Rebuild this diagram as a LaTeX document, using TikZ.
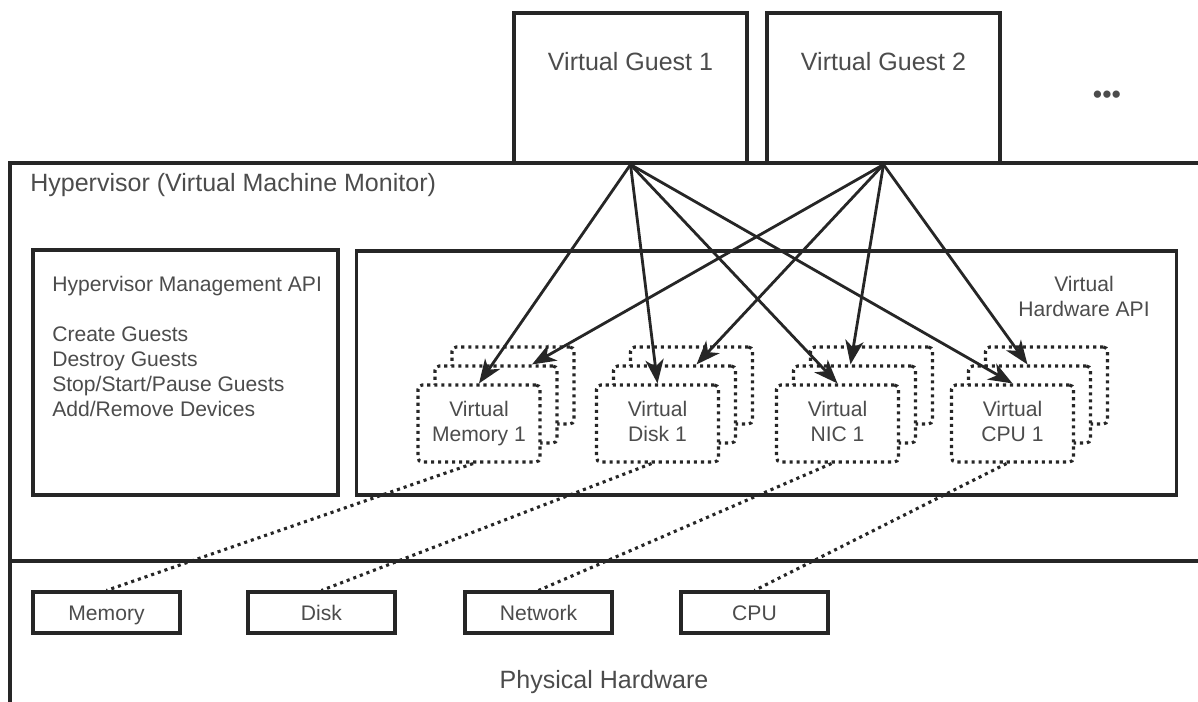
\documentclass[tikz,border=0pt]{standalone}
\usepackage{fontspec}
\setmainfont{Liberation Sans}
\usetikzlibrary{arrows.meta}

\begin{document}
\begin{tikzpicture}[x=0.025cm, y=-0.025cm,
	line/.style={line width=2.2pt, draw=black!85},
	box/.style={rectangle, line width=2.2pt, draw=black!85, fill=white, inner sep=0pt},
	txt/.style={text=black!70, font=\fontsize{15}{17.8}\selectfont, align=center},
	big/.style={text=black!70, font=\fontsize{17.8}{21}\selectfont},
	guest/.style={box, minimum width=5.825cm, minimum height=3.75cm},
	vbox/.style={rectangle, draw=black!85, line width=2.2pt, dash pattern=on 2.2pt off 2.8pt,
		rounded corners=3pt, fill=white, minimum width=3.05cm, minimum height=1.925cm, inner sep=0pt},
	hwbox/.style={box, minimum width=3.675cm, minimum height=1.025cm, text height=12.8pt, text depth=2pt},
	arr/.style={line width=2pt, draw=black!85, -{Stealth[length=17pt, width=13pt, inset=5pt]}},
	dots/.style={line width=2.2pt, draw=black!85, dash pattern=on 2.2pt off 2.8pt}]
	\useasboundingbox (0,0) rectangle (1198,702);
	\draw[line] (1198,163) -- (10,163) -- (10,702);
	\draw[line] (10,561) -- (1198,561);
	\node[guest, label={[big, anchor=center, yshift=-1.25cm]north:Virtual Guest 1}] (g1) at (630.5,88) {};
	\node[guest, label={[big, anchor=center, yshift=-1.25cm]north:Virtual Guest 2}] (g2) at (883.5,88) {};
	\node[big, inner sep=0pt] (more) at (1107,97) {\fontsize{19}{19}\selectfont •••};
	\node[big, anchor=west, inner sep=0pt] (hyp) at (30,185) {Hypervisor (Virtual Machine Monitor)};
	\node[box, minimum width=7.625cm, minimum height=6.125cm] (mgmt) at (185.5,372.5) {};
	\node[txt, align=left, anchor=north west, inner sep=0pt] (mgmttxt) at (52,276)
		{Hypervisor Management API\\[17.8pt]Create Guests\\Destroy Guests\\Stop/Start/Pause Guests\\Add/Remove Devices};
	\node[box, minimum width=20.475cm, minimum height=6.1cm] (vhw) at (766.5,373) {};
	\node[txt] (vhwtxt) at (1084,296) {Virtual\\Hardware API};
	\foreach \n/\x/\t in {mem/479/Memory 1, disk/657.5/Disk 1, nic/837.5/NIC 1, cpu/1012.5/CPU 1} {
		\node[vbox] (\n3) at ({\x+34},385.5) {};
		\node[vbox] (\n2) at ({\x+17},404.5) {};
		\node[vbox, txt] (\n1) at (\x,423.5) {Virtual\\\t\vphantom{y}};
	}
	\node[hwbox, txt] (pmem) at (106.5,612.5) {Memory};
	\node[hwbox, txt] (pdisk) at (321.5,612.5) {Disk};
	\node[hwbox, txt] (pnet) at (538.5,612.5) {Network};
	\node[hwbox, txt] (pcpu) at (754.5,612.5) {CPU};
	\node[big] (phys) at (604,682) {Physical Hardware};
	\foreach \n/\p in {mem/pmem, disk/pdisk, nic/pnet, cpu/pcpu}
		\draw[dots] ([xshift=-0.15cm]\n1.south) -- (\p.north);
	\foreach \n/\o in {mem/36, disk/22, nic/-4, cpu/-2} {
		\draw[arr] (g1.south) -- (\n1.north);
		\draw[arr] (g2.south) -- ([xshift=\o*0.025cm]\n2.north);
	}
\end{tikzpicture}
\end{document}
